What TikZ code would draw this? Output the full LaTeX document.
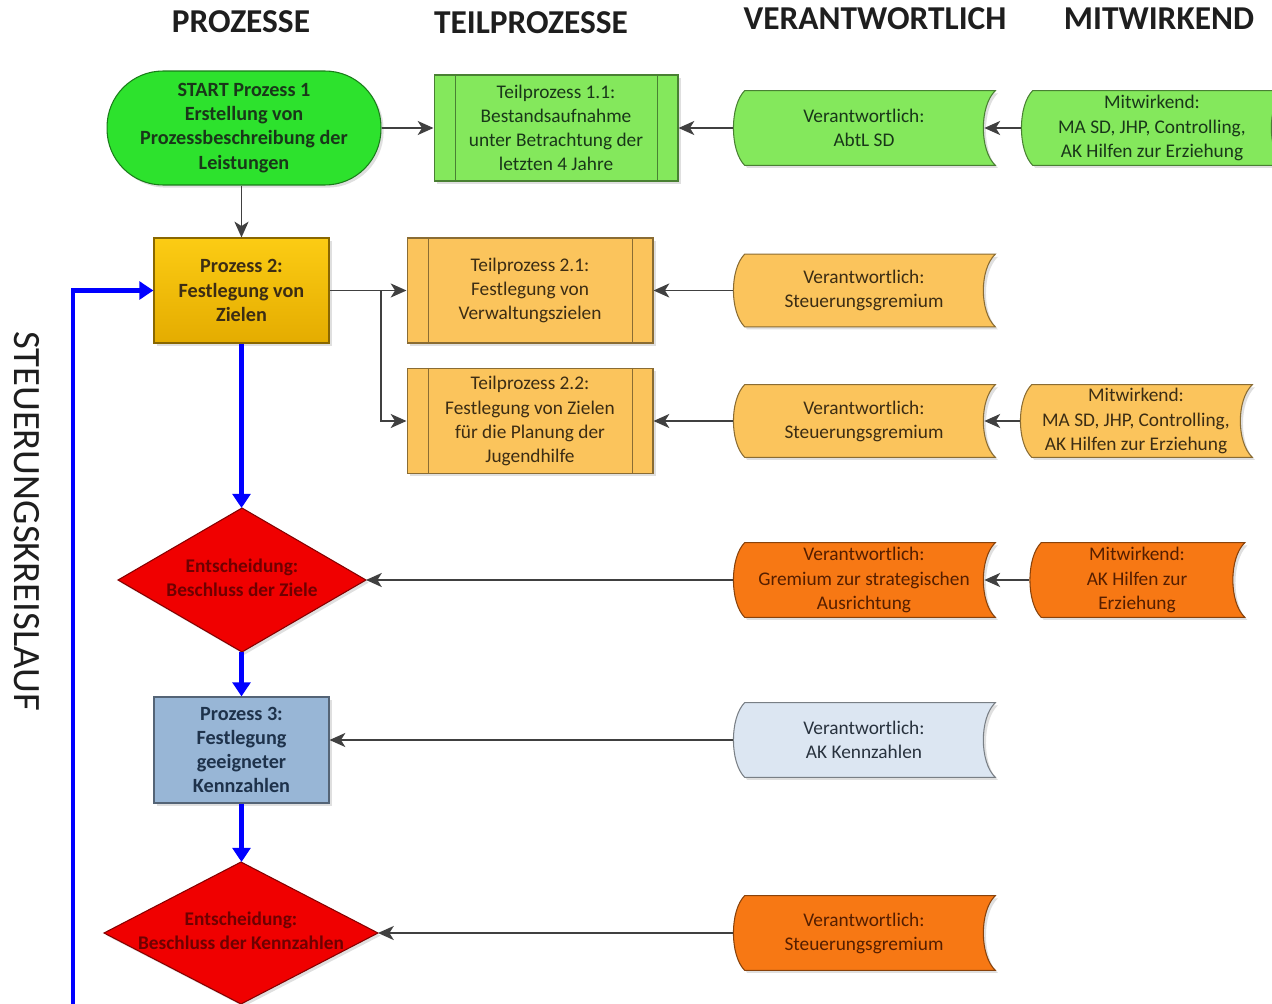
\documentclass[tikz,border=0pt]{standalone}
\usepackage{fontspec}
\setmainfont{Carlito}
\usetikzlibrary{arrows.meta,shapes.geometric,backgrounds,shadows,calc}
\definecolor{startgreen}{RGB}{45,226,45}
\definecolor{lightgreen}{RGB}{132,232,92}
\definecolor{goldA}{RGB}{252,204,20}
\definecolor{goldB}{RGB}{228,172,0}
\definecolor{lightorange}{RGB}{251,196,92}
\definecolor{orangeC}{RGB}{247,120,20}
\definecolor{redD}{RGB}{240,0,0}
\definecolor{steelB}{RGB}{152,182,214}
\definecolor{paleB}{RGB}{220,230,242}
\definecolor{loopblue}{RGB}{0,0,255}
\definecolor{connect}{RGB}{64,64,64}
\definecolor{txtgreen}{RGB}{25,55,25}
\definecolor{txtbrown}{RGB}{60,45,20}
\definecolor{txtorange}{RGB}{85,30,0}
\definecolor{txtred}{RGB}{110,0,0}
\definecolor{txtsteel}{RGB}{30,50,75}
\definecolor{txtpale}{RGB}{40,50,62}
\definecolor{headtxt}{RGB}{30,30,30}
\newcommand\sdpath[2]{%
  \path[draw=#2!55!black, line width=0.6pt, fill=#2,
        drop shadow={opacity=0.25,shadow xshift=1.5pt,shadow yshift=-1.5pt}]
    ([xshift=0.24cm]#1.north west)
      .. controls ([xshift=-0.06cm,yshift=-0.3cm]#1.north west)
      and ([xshift=-0.06cm,yshift=0.3cm]#1.south west) ..
    ([xshift=0.24cm]#1.south west) -- (#1.south east)
      .. controls ([xshift=-0.32cm,yshift=0.3cm]#1.south east)
      and ([xshift=-0.32cm,yshift=-0.3cm]#1.north east) ..
    (#1.north east) -- cycle;}
\newcommand\dtext[2]{\makebox[0pt]{\begin{tabular}{@{}c@{}}#1\\#2\end{tabular}}}
\begin{document}
\begin{tikzpicture}[x=0.02cm,y=-0.02cm,
  body/.style={font=\fontsize{11}{13.7}\selectfont, align=center, inner sep=0pt},
  bodyb/.style={body, font=\fontsize{11.5}{13.7}\selectfont\bfseries},
  shadowed/.style={drop shadow={opacity=0.25,shadow xshift=1.5pt,shadow yshift=-1.5pt}},
  filled/.style={draw=#1!55!black, fill=#1, line width=0.6pt, shadowed},
  sdnode/.style={body, minimum width=5.24cm, minimum height=1.48cm},
  predef/.style={body, minimum width=4.92cm, minimum height=2.1cm},
  header/.style={font=\fontsize{19}{22}\selectfont\bfseries, text=headtxt, inner sep=0pt},
  grayarr/.style={draw=connect, line width=1.1pt, -{Stealth[length=9pt,width=8pt,inset=2.5pt]}},
  bluearr/.style={draw=loopblue, line width=2.6pt, -{Triangle[length=8pt,width=10pt]}},
  blueline/.style={draw=loopblue, line width=2.6pt},
  decision/.style={diamond, filled=redD, inner sep=0pt, outer sep=0pt, text=txtred,
     font=\fontsize{11}{13.7}\selectfont\bfseries}
]
\useasboundingbox (0,0) rectangle (1272,1004);
\clip (0,0) rectangle (1272,1004);

% headers
\node[header] (h1) at (241,22) {PROZESSE};
\node[header] (h2) at (531,23) {TEILPROZESSE};
\node[header] (h3) at (875,19) {VERANTWORTLICH};
\node[header] (h4) at (1159,19) {MITWIRKEND};
\node[font=\fontsize{22}{26}\selectfont, text=headtxt, rotate=-90, inner sep=0pt] (loopname) at (27,521) {STEUERUNGSKREISLAUF};

% row 1
\node[bodyb, filled=startgreen, text=txtgreen, rounded corners=1.12cm,
      minimum width=5.48cm, minimum height=2.28cm] (start) at (244,128)
  {START Prozess 1\\Erstellung von\\Prozessbeschreibung der\\Leistungen};
\node[predef, filled=lightgreen, text=txtgreen, minimum width=4.88cm, minimum height=2.12cm] (t11) at (556,128)
  {Teilprozess 1.1:\\Bestandsaufnahme\\unter Betrachtung der\\letzten 4 Jahre};
\node[sdnode, text=txtgreen] (v1) at (864,128) {Verantwortlich:\\AbtL SD};
\node[sdnode, text=txtgreen] (m1) at (1152,128) {Mitwirkend:\\MA SD, JHP, Controlling,\\AK Hilfen zur Erziehung};

% row 2
\node[bodyb, top color=goldA, bottom color=goldB, draw=goldB!60!black, line width=0.6pt, shadowed,
      text=txtbrown, minimum width=3.5cm, minimum height=2.1cm] (p2) at (241.5,290.5)
  {Prozess 2:\\Festlegung von\\Zielen};
\node[predef, filled=lightorange, text=txtbrown] (t21) at (530,290.5)
  {Teilprozess 2.1:\\Festlegung von\\Verwaltungszielen};
\node[predef, filled=lightorange, text=txtbrown] (t22) at (530,421)
  {Teilprozess 2.2:\\Festlegung von Zielen\\für die Planung der\\Jugendhilfe};
\node[sdnode, text=txtbrown, minimum height=1.44cm] (v21) at (864,290.5) {Verantwortlich:\\Steuerungsgremium};
\node[sdnode, text=txtbrown, minimum height=1.44cm] (v22) at (864,421) {Verantwortlich:\\Steuerungsgremium};
\node[sdnode, text=txtbrown, minimum height=1.44cm, minimum width=4.64cm] (m22) at (1136,421) {Mitwirkend:\\MA SD, JHP, Controlling,\\AK Hilfen zur Erziehung};

% row 3
\node[decision, minimum width=4.96cm, minimum height=2.88cm] (d1) at (242,580)
  {\dtext{Entscheidung:}{Beschluss der Ziele}};
\node[sdnode, text=txtorange] (v3) at (864,580) {Verantwortlich:\\Gremium zur strategischen\\Ausrichtung};
\node[sdnode, text=txtorange, minimum width=4.3cm] (m3) at (1137,580) {Mitwirkend:\\AK Hilfen zur\\Erziehung};

% row 4
\node[bodyb, filled=steelB, text=txtsteel, minimum width=3.5cm, minimum height=2.12cm] (p3) at (241.5,750)
  {Prozess 3:\\Festlegung\\geeigneter\\Kennzahlen};
\node[sdnode, text=txtpale] (v4) at (864,740) {Verantwortlich:\\AK Kennzahlen};

% row 5
\node[decision, minimum width=5.48cm, minimum height=2.84cm] (d2) at (241,933)
  {\dtext{Entscheidung:}{Beschluss der Kennzahlen}};
\node[sdnode, text=txtorange] (v5) at (864,933) {Verantwortlich:\\Steuerungsgremium};

% stored-data outlines and sub-process inner lines
\begin{scope}[on background layer]
  \sdpath{v1}{lightgreen}
  \sdpath{m1}{lightgreen}
  \sdpath{v21}{lightorange}
  \sdpath{v22}{lightorange}
  \sdpath{m22}{lightorange}
  \sdpath{v3}{orangeC}
  \sdpath{m3}{orangeC}
  \sdpath{v4}{paleB}
  \sdpath{v5}{orangeC}
\end{scope}
\foreach \n/\c in {t11/lightgreen,t21/lightorange,t22/lightorange}{
  \draw[draw=\c!55!black, line width=0.6pt] ([xshift=0.44cm]\n.north west) -- ([xshift=0.44cm]\n.south west);
  \draw[draw=\c!55!black, line width=0.6pt] ([xshift=-0.42cm]\n.north east) -- ([xshift=-0.42cm]\n.south east);
}

% gray connectors
\draw[grayarr] (start.east) -- (start.east -| t11.west);
\draw[grayarr] (v1.west) -- (v1.west -| t11.east);
\draw[grayarr] (m1.west) -- ([xshift=-0.22cm]v1.east);
\draw[grayarr] (start.south -| p2.north) -- (p2.north);
\draw[grayarr] (p2.east) -- (t21.west);
\coordinate (split) at ($(p2.east)!0.667!(t21.west)$);
\draw[grayarr] (split) |- (t22.west);
\draw[grayarr] (v21.west) -- (v21.west -| t21.east);
\draw[grayarr] (v22.west) -- (v22.west -| t22.east);
\draw[grayarr] (m22.west) -- ([xshift=-0.22cm]v22.east);
\draw[grayarr] (v3.west) -- (d1.east);
\draw[grayarr] (m3.west) -- ([xshift=-0.22cm]v3.east);
\draw[grayarr] (v4.west) -- (v4.west -| p3.east);
\draw[grayarr] (v5.west) -- (d2.east);

% blue control loop
\draw[bluearr] (p2.south) -- (p2.south |- d1.north);
\draw[bluearr] (d1.south -| p3.north) -- (p3.north);
\draw[bluearr] (p3.south) -- (p3.south |- d2.north);
\coordinate (exitbottom) at (241,1012);
\coordinate (loopbottom) at (73,1012);
\draw[blueline] (d2.south) -- (exitbottom);
\draw[bluearr] (loopbottom) |- (p2.west);
\end{tikzpicture}
\end{document}
